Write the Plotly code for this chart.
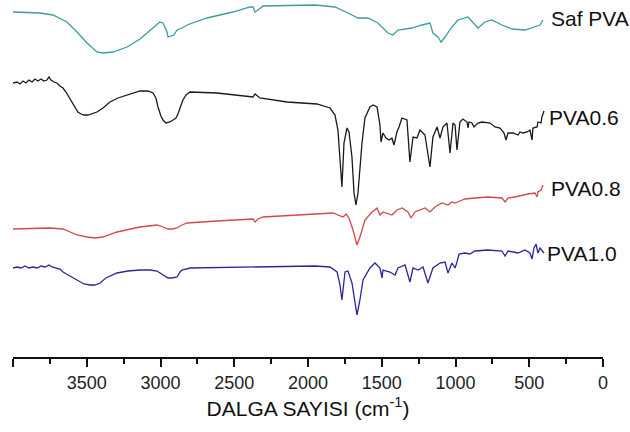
import plotly.graph_objects as go

# FTIR spectra, wavenumber (cm-1) vs. offset transmittance (a.u.)
saf_pva_wn = [4000, 3817, 3729, 3634, 3566, 3498, 3431, 3390, 3322, 3227, 3139, 3051, 3004, 2983,
              2956, 2949, 2922, 2909, 2888, 2854, 2820, 2685, 2509, 2393, 2373, 2359, 2339, 2305,
              1953, 1817, 1729, 1661, 1593, 1526, 1458, 1424, 1390, 1295, 1227, 1173, 1153, 1119,
              1098, 1071, 1024, 983, 915, 868, 848, 800, 753, 685, 617, 529, 461, 427, 407]
saf_pva_t = [345, 344, 342, 335, 325, 314, 305, 304, 305, 310, 318, 329, 335, 334,
             325, 320, 321, 322, 327, 329, 332, 339, 345, 350, 350, 345, 347, 351,
             352, 350, 344, 339, 339, 334, 324, 322, 327, 329, 332, 334, 324, 320,
             315, 320, 330, 337, 340, 332, 329, 335, 337, 332, 328, 327, 330, 332, 337]

pva06_wn = [4000, 3973, 3953, 3932, 3912, 3892, 3871, 3851, 3831, 3810, 3790, 3770, 3756, 3743,
            3722, 3702, 3682, 3661, 3641, 3621, 3600, 3580, 3560, 3539, 3519, 3492, 3465, 3431,
            3390, 3343, 3288, 3227, 3173, 3139, 3085, 3051, 3031, 3017, 2997, 2983, 2963, 2936,
            2915, 2895, 2882, 2861, 2848, 2827, 2800, 2617, 2373, 2359, 2326, 2142, 2054, 1939,
            1851, 1817, 1797, 1783, 1770, 1756, 1736, 1722, 1702, 1688, 1675, 1661, 1634, 1614,
            1580, 1559, 1532, 1512, 1505, 1492, 1471, 1451, 1431, 1417, 1397, 1383, 1363, 1329,
            1309, 1288, 1261, 1241, 1207, 1173, 1153, 1125, 1105, 1085, 1058, 1037, 1017, 1003,
            990, 970, 949, 922, 915, 909, 888, 875, 848, 820, 786, 766, 732, 698, 671, 658, 644,
            610, 576, 563, 542, 515, 495, 481, 475, 447, 441, 420, 414, 400]
pva06_t = [274, 275, 273, 276, 274, 277, 275, 278, 276, 278, 276, 277, 280, 277,
           275, 274, 271, 269, 265, 260, 254, 249, 245, 243, 242, 242, 243, 245,
           249, 255, 259, 262, 265, 266, 266, 264, 259, 250, 241, 237, 234, 235,
           237, 239, 243, 251, 257, 262, 265, 264, 260, 263, 259, 255, 254, 253,
           249, 242, 227, 197, 170, 214, 229, 225, 200, 164, 152, 164, 214, 239,
           250, 252, 250, 232, 215, 224, 219, 217, 219, 212, 225, 230, 239, 237,
           195, 220, 219, 227, 222, 190, 220, 230, 219, 230, 234, 204, 234, 232,
           207, 235, 238, 235, 229, 235, 234, 230, 234, 235, 234, 234, 230, 229, 224, 217, 224,
           224, 222, 225, 224, 225, 227, 217, 229, 230, 235, 234, 240, 246]

pva08_wn = [4000, 3749, 3661, 3566, 3498, 3444, 3390, 3295, 3139, 3024, 2983, 2949, 2922, 2888,
            2854, 2820, 2617, 2393, 2373, 2359, 2339, 2305, 1953, 1831, 1763, 1742, 1722, 1695,
            1668, 1648, 1614, 1566, 1532, 1512, 1492, 1431, 1397, 1363, 1322, 1302, 1275, 1207,
            1173, 1139, 1092, 1051, 1024, 1003, 970, 936, 868, 780, 685, 664, 644, 597, 509,
            461, 447, 441, 420, 407]
pva08_t = [128, 129, 128, 122, 120, 119, 120, 125, 130, 132, 130, 128, 128, 129,
           132, 134, 136, 138, 138, 135, 138, 140, 143, 144, 140, 143, 139, 127,
           112, 120, 137, 145, 149, 142, 145, 142, 147, 149, 145, 139, 145, 149,
           145, 150, 154, 152, 155, 154, 156, 158, 159, 160, 159, 155, 159, 160, 163,
           164, 160, 165, 167, 172]

pva10_wn = [4000, 3973, 3946, 3919, 3892, 3865, 3837, 3810, 3783, 3756, 3736, 3709, 3682, 3661,
            3614, 3566, 3519, 3478, 3444, 3410, 3370, 3295, 3221, 3139, 3071, 3024, 2983, 2949,
            2922, 2888, 2868, 2854, 2800, 2373, 1953, 1851, 1803, 1783, 1770, 1749, 1729, 1702,
            1681, 1668, 1648, 1627, 1580, 1546, 1512, 1498, 1492, 1444, 1410, 1390, 1342, 1309,
            1288, 1254, 1220, 1187, 1153, 1105, 1071, 1051, 1024, 1003, 990, 976, 936, 902, 868,
            780, 685, 664, 644, 576, 529, 495, 481, 468, 454, 441, 427, 414, 400]
pva10_t = [89, 90, 89, 91, 89, 90, 89, 91, 90, 92, 90, 89, 88, 85,
           81, 77, 73, 72, 72, 74, 79, 84, 86, 87, 87, 86, 82, 79,
           79, 80, 85, 87, 89, 90, 91, 90, 85, 72, 57, 85, 86, 74,
           52, 42, 57, 77, 89, 94, 89, 79, 87, 85, 82, 89, 92, 75,
           89, 87, 90, 74, 89, 94, 95, 84, 94, 89, 95, 103, 104, 103, 106,
           107, 106, 101, 106, 104, 107, 104, 98, 109, 113, 104, 109, 106, 104]

series = [
    ("Saf PVA", saf_pva_wn, saf_pva_t, "#3f9c9e"),
    ("PVA0.6", pva06_wn, pva06_t, "#1a1a1a"),
    ("PVA0.8", pva08_wn, pva08_t, "#d14a4a"),
    ("PVA1.0", pva10_wn, pva10_t, "#28289a"),
]

# label position for each spectrum (right end)
label_wn = [367, 380, 367, 390]
label_t = [339, 240, 169, 104]

font_family = "Arial, Liberation Sans, sans-serif"

fig = go.Figure()
for name, wn, t, color in series:
    fig.add_trace(go.Scatter(x=wn, y=t, mode="lines", name=name,
                             line=dict(color=color, width=1.3)))

for (name, _, _, _), lx, ly in zip(series, label_wn, label_t):
    fig.add_annotation(x=lx, y=ly, xref="x", yref="y", text=name, showarrow=False,
                       xanchor="left", yanchor="middle",
                       font=dict(family=font_family, size=21, color="#111111"))

fig.update_layout(
    width=630, height=432,
    margin=dict(l=13, r=27, t=0, b=75),
    paper_bgcolor="white", plot_bgcolor="white",
    showlegend=False,
    font=dict(family=font_family, color="#111111"),
    xaxis=dict(
        range=[4000, 0], tick0=0, dtick=500,
        showline=True, linecolor="#111111", linewidth=2,
        ticks="outside", ticklen=8, tickwidth=2, tickcolor="#111111",
        minor=dict(dtick=250, tick0=0, ticks="outside", ticklen=5, tickwidth=2,
                   tickcolor="#111111", showgrid=False),
        showgrid=False, zeroline=False,
        tickfont=dict(size=18, family=font_family, color="#222222"),
        title=dict(text="DALGA SAYISI (cm<sup>-1</sup>)", standoff=10,
                   font=dict(size=21, family=font_family, color="#111111")),
    ),
    yaxis=dict(range=[0, 357], visible=False, showgrid=False, zeroline=False),
)

fig.write_html("out.html")
